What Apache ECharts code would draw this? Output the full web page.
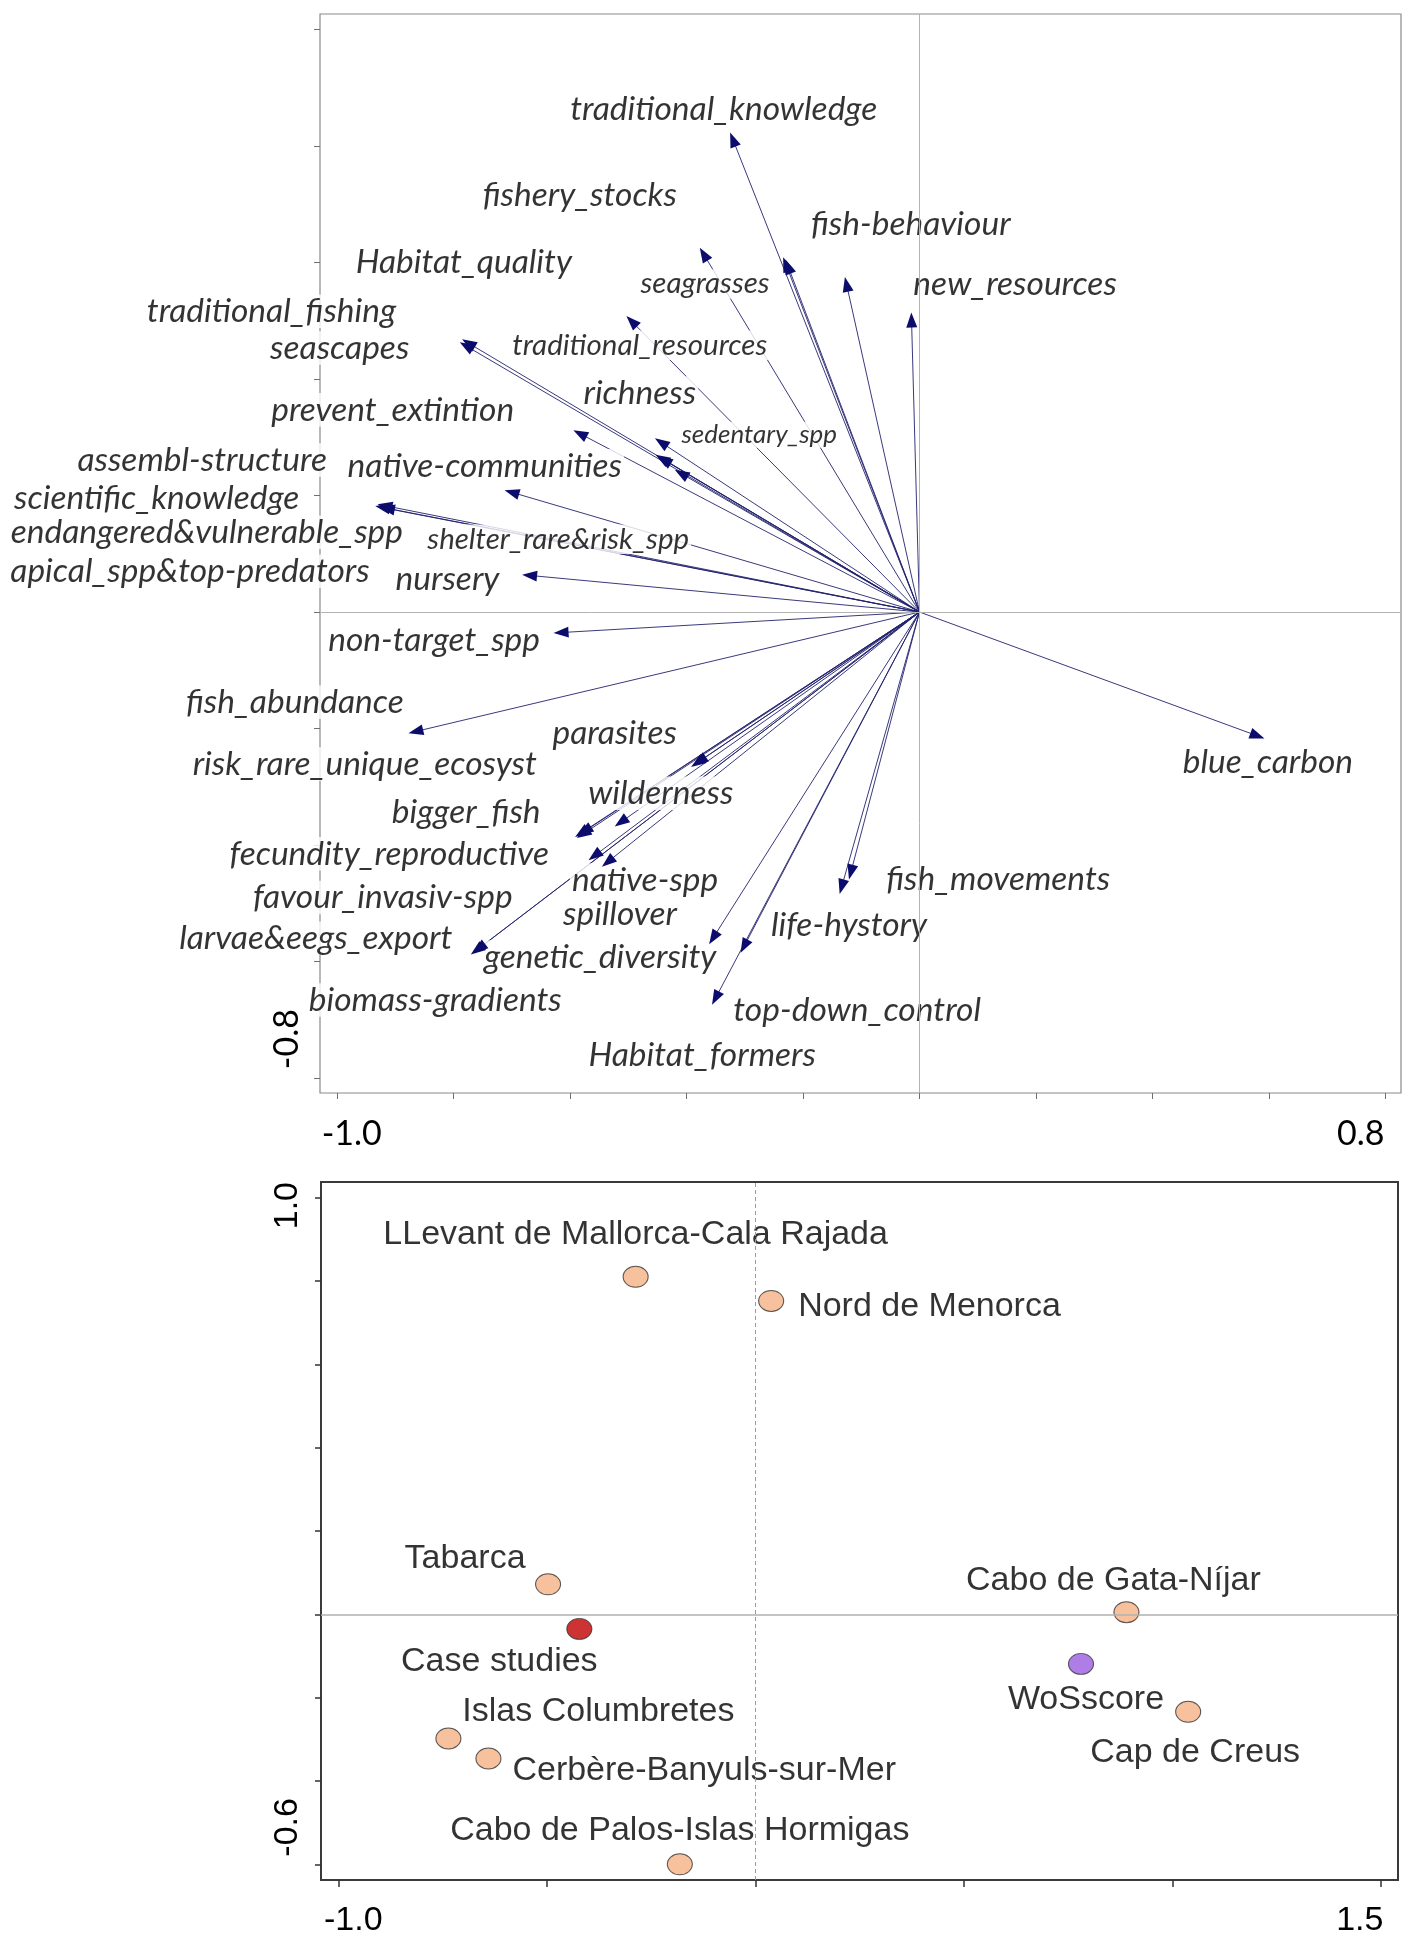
<!DOCTYPE html>
<html>
<head>
<meta charset="utf-8">
<script src="https://cdn.jsdelivr.net/npm/echarts@6/dist/echarts.min.js"></script>
<style>
html,body{margin:0;padding:0;background:#fff;}
#c{width:1417px;height:1944px;}
</style>
</head>
<body>
<div id="c"></div>
<script>
// ---------- DATA: top biplot (variable vectors) ----------
const varNames = ['traditional_knowledge','fishery_stocks','fish-behaviour','Habitat_quality','seagrasses','new_resources','traditional_fishing','seascapes','traditional_resources','richness','prevent_extintion','sedentary_spp','assembl-structure','native-communities','scientific_knowledge','endangered&vulnerable_spp','shelter_rare&risk_spp','apical_spp&top-predators','nursery','non-target_spp','fish_abundance','parasites','blue_carbon','risk_rare_unique_ecosyst','wilderness','bigger_fish','fecundity_reproductive','native-spp','fish_movements','favour_invasiv-spp','spillover','life-hystory','larvae&eegs_export','genetic_diversity','biomass-gradients','top-down_control','Habitat_formers'];
const arrowX = [-0.325,-0.377,-0.128,-0.234,-0.230,-0.014,-0.789,-0.785,-0.503,-0.454,-0.594,-0.453,-0.449,-0.712,-0.934,-0.926,-0.420,-0.930,-0.682,-0.628,-0.877,-0.388,0.592,-0.392,-0.523,-0.591,-0.585,-0.545,-0.121,-0.568,-0.588,-0.137,-0.770,-0.361,-0.766,-0.307,-0.356];
const arrowY = [0.823,0.625,0.575,0.609,0.605,0.514,0.463,0.468,0.508,0.298,0.312,0.270,0.267,0.209,0.182,0.180,0.244,0.185,0.064,-0.036,-0.208,-0.263,-0.217,-0.266,-0.368,-0.386,-0.383,-0.437,-0.459,-0.426,-0.388,-0.484,-0.588,-0.570,-0.585,-0.585,-0.674];
const labelX = [-0.336,-0.583,-0.015,-0.782,-0.368,0.164,-1.112,-0.995,-0.480,-0.480,-0.904,-0.275,-1.231,-0.746,-1.309,-1.223,-0.620,-1.252,-0.810,-0.833,-1.072,-0.523,0.598,-0.952,-0.444,-0.778,-0.910,-0.471,0.135,-0.921,-0.514,-0.121,-1.036,-0.548,-0.831,-0.107,-0.373];
const labelY = [0.863,0.715,0.666,0.601,0.563,0.563,0.516,0.453,0.458,0.376,0.347,0.304,0.261,0.251,0.196,0.137,0.125,0.070,0.057,-0.048,-0.155,-0.208,-0.257,-0.261,-0.311,-0.343,-0.415,-0.460,-0.458,-0.490,-0.518,-0.537,-0.560,-0.592,-0.666,-0.683,-0.760];
const topXTicks = [-1.0,-0.8,-0.6,-0.4,-0.2,0.0,0.2,0.4,0.6,0.8];
const topYTicks = [-0.8,-0.6,-0.4,-0.2,0.0,0.2,0.4,0.6,0.8,1.0];
const topXLabels = [-1.0,0.8];
const topYLabels = [-0.8];

// ---------- DATA: bottom plot (sites) ----------
const siteNames = ['LLevant de Mallorca-Cala Rajada','Nord de Menorca','Tabarca','Case studies','Cabo de Gata-Níjar','WoSscore','Cap de Creus','Islas Columbretes','Cerbère-Banyuls-sur-Mer','Cabo de Palos-Islas Hormigas'];
const siteX = [-0.287,0.038,-0.497,-0.422,0.890,0.781,1.038,-0.736,-0.640,-0.181];
const siteY = [0.810,0.752,0.072,-0.035,0.005,-0.119,-0.234,-0.298,-0.346,-0.600];
const siteGroup = ['site','site','site','case','site','wos','site','site','site','site'];
const botXTicks = [-1.0,-0.5,0.0,0.5,1.0,1.5];
const botYTicks = [-0.6,-0.4,-0.2,0.0,0.2,0.4,0.6,0.8,1.0];
const botXLabels = [-1.0,1.5];
const botYLabels = [-0.6,1.0];

// ---------- STYLES ----------
const ARROW_LINE = '#22226e';
const ARROW_HEAD = '#0c0c6c';
const LABEL_FONT = 'Lato, "Open Sans", sans-serif';
const SITE_FONT = '"Liberation Sans", Arial, sans-serif';
const NORMAL_SIZE = 33.5;
const smallSize = {'traditional_resources':29.5,'seagrasses':29.5,'shelter_rare&risk_spp':29.5,'sedentary_spp':26};
const groupColor = {site:'#F4B183', case:'#C00000', wos:'#9A5CE0'};
const siteLabelStyle = {
  'LLevant de Mallorca-Cala Rajada':{align:'center',offset:[0,-42]},
  'Nord de Menorca':{align:'left',offset:[27,6]},
  'Tabarca':{align:'center',offset:[-83,-26]},
  'Case studies':{align:'center',offset:[-80,33]},
  'Cabo de Gata-Níjar':{align:'center',offset:[-13,-32]},
  'WoSscore':{align:'center',offset:[5,36]},
  'Cap de Creus':{align:'center',offset:[7,41]},
  'Islas Columbretes':{align:'center',offset:[150,-27]},
  'Cerbère-Banyuls-sur-Mer':{align:'left',offset:[24,12]},
  'Cabo de Palos-Islas Hormigas':{align:'center',offset:[0,-34]}
};

const chart = echarts.init(document.getElementById('c'), null, {renderer:'canvas'});

const HEAD_L = 15, HEAD_W = 5.5;
function arrowLineItem(params, api){
  const p0 = api.coord([0,0]);
  const p1 = api.coord([api.value(0), api.value(1)]);
  const dx = p1[0]-p0[0], dy = p1[1]-p0[1];
  const len = Math.sqrt(dx*dx+dy*dy) || 1;
  const bx = p1[0]-dx/len*HEAD_L*0.6, by = p1[1]-dy/len*HEAD_L*0.6;
  return {type:'line', shape:{x1:p0[0],y1:p0[1],x2:bx,y2:by}, style:{stroke:ARROW_LINE, lineWidth:0.9}};
}
function arrowHeadItem(params, api){
  const p0 = api.coord([0,0]);
  const p1 = api.coord([api.value(0), api.value(1)]);
  const dx = p1[0]-p0[0], dy = p1[1]-p0[1];
  const len = Math.sqrt(dx*dx+dy*dy) || 1;
  const ux = dx/len, uy = dy/len;
  const bx = p1[0]-ux*HEAD_L, by = p1[1]-uy*HEAD_L;
  const nx = -uy, ny = ux;
  return {type:'polygon', shape:{points:[[p1[0],p1[1]],[bx+nx*HEAD_W,by+ny*HEAD_W],[bx-nx*HEAD_W,by-ny*HEAD_W]]}, style:{fill:ARROW_HEAD}};
}

const arrowData = varNames.map((n,i)=>({name:n, value:[arrowX[i], arrowY[i]]}));
const labelData = varNames.map((n,i)=>{
  const fs = smallSize[n] || NORMAL_SIZE;
  return {name:n, value:[labelX[i], labelY[i]], label:{fontSize:fs, lineHeight:fs}};
});
const siteData = siteNames.map((n,i)=>({
  name:n, value:[siteX[i], siteY[i]],
  itemStyle:{color: groupColor[siteGroup[i]]},
  label:{align: siteLabelStyle[n].align, offset: siteLabelStyle[n].offset}
}));

const fmt1 = v => Number(v).toFixed(1);

const option = {
  backgroundColor:'#fff',
  animation:false,
  grid:[
    {left:320, top:14, width:1081, height:1079, show:true, borderColor:'#8a8a8a', borderWidth:1.2, backgroundColor:'transparent'},
    {left:321, top:1182, width:1077, height:698, show:true, borderColor:'#3a3a3a', borderWidth:2, backgroundColor:'transparent'}
  ],
  xAxis:[
    {gridIndex:0, type:'value', position:'bottom', min:-1.0288, max:0.8263,
     axisLine:{show:false, onZero:false}, splitLine:{show:false},
     axisTick:{show:true, customValues:topXTicks, length:6, lineStyle:{color:'#707070', width:1}},
     axisLabel:{show:true, customValues:topXLabels, margin:24, color:'#000', fontFamily:LABEL_FONT, fontSize:34,
       formatter:v=>{const t=fmt1(v); return v<0 ? '{l|'+t+'}' : '{r|'+t+'}';},
       rich:{l:{fontFamily:LABEL_FONT,fontSize:34,color:'#000',padding:[0,0,0,30]}, r:{fontFamily:LABEL_FONT,fontSize:34,color:'#000',padding:[0,50,0,0]}}}
    },
    {gridIndex:1, type:'value', position:'bottom', min:-1.0415, max:1.5412,
     axisLine:{show:false, onZero:false}, splitLine:{show:false},
     axisTick:{show:true, customValues:botXTicks, length:7, lineStyle:{color:'#333', width:1.5}},
     axisLabel:{show:true, customValues:botXLabels, margin:24, color:'#000', fontFamily:SITE_FONT, fontSize:34,
       formatter:v=>{const t=fmt1(v); return v<0 ? '{l|'+t+'}' : '{r|'+t+'}';},
       rich:{l:{fontFamily:SITE_FONT,fontSize:34,color:'#000',padding:[0,0,0,30]}, r:{fontFamily:SITE_FONT,fontSize:34,color:'#000',padding:[0,42,0,0]}}}
    }
  ],
  yAxis:[
    {gridIndex:0, type:'value', position:'left', min:-0.8255, max:1.0263,
     axisLine:{show:false, onZero:false}, splitLine:{show:false},
     axisTick:{show:true, customValues:topYTicks, length:6, lineStyle:{color:'#707070', width:1}},
     axisLabel:{show:true, customValues:topYLabels, rotate:90, margin:16, color:'#000', fontFamily:LABEL_FONT, fontSize:34,
       formatter:v=>'{d|'+fmt1(v)+'}',
       rich:{d:{fontFamily:LABEL_FONT,fontSize:34,color:'#000',padding:[0,0,0,78]}}}
    },
    {gridIndex:1, type:'value', position:'left', min:-0.6376, max:1.0375,
     axisLine:{show:false, onZero:false}, splitLine:{show:false},
     axisTick:{show:true, customValues:botYTicks, length:6, lineStyle:{color:'#333', width:1.5}},
     axisLabel:{show:true, customValues:botYLabels, rotate:90, margin:16, color:'#000', fontFamily:SITE_FONT, fontSize:34,
       formatter:v=>{const t=fmt1(v); return v<0 ? '{d|'+t+'}' : '{u|'+t+'}';},
       rich:{d:{fontFamily:SITE_FONT,fontSize:34,color:'#000',padding:[0,0,0,74]}, u:{fontFamily:SITE_FONT,fontSize:34,color:'#000',padding:[0,16,0,0]}}}
    }
  ],
  series:[
    // top: zero reference lines
    {type:'scatter', xAxisIndex:0, yAxisIndex:0, data:[], silent:true, z:1,
     markLine:{silent:true, symbol:'none', label:{show:false}, animation:false,
       lineStyle:{color:'#b4b4b4', width:1, type:'solid'},
       data:[{xAxis:0},{yAxis:0}]}},
    // top: arrow shafts
    {type:'custom', xAxisIndex:0, yAxisIndex:0, data:arrowData, renderItem:arrowLineItem, silent:true, z:2,
     encode:{x:0,y:1}},
    // top: variable labels (white boxes covering shafts)
    {type:'scatter', xAxisIndex:0, yAxisIndex:0, data:labelData, silent:true, z:3, clip:false,
     symbolSize:1, itemStyle:{color:'rgba(0,0,0,0)'},
     label:{show:true, position:'inside', formatter:'{b}', color:'#000', fontFamily:LABEL_FONT, fontStyle:'italic',
       backgroundColor:'#ffffff', padding:[0,2]}},
    // top: arrow heads
    {type:'custom', xAxisIndex:0, yAxisIndex:0, data:arrowData, renderItem:arrowHeadItem, silent:true, z:4,
     encode:{x:0,y:1}},
    // bottom: zero reference lines
    {type:'scatter', xAxisIndex:1, yAxisIndex:1, data:[], silent:true, z:1,
     markLine:{silent:true, symbol:'none', label:{show:false}, animation:false,
       data:[{xAxis:0, lineStyle:{color:'#9a9a9a', width:1, type:[4,3]}},
             {yAxis:0, lineStyle:{color:'#b0b0b0', width:1.5, type:'solid'}}]}},
    // bottom: sites
    {type:'scatter', xAxisIndex:1, yAxisIndex:1, data:siteData, silent:true, z:3, clip:false,
     symbol:'circle', symbolSize:[25,21], itemStyle:{borderColor:'#333', borderWidth:1},
     label:{show:true, position:'inside', formatter:'{b}', color:'#000', fontFamily:SITE_FONT, fontSize:34}}
  ]
};
chart.setOption(option);
</script>
</body>
</html>
